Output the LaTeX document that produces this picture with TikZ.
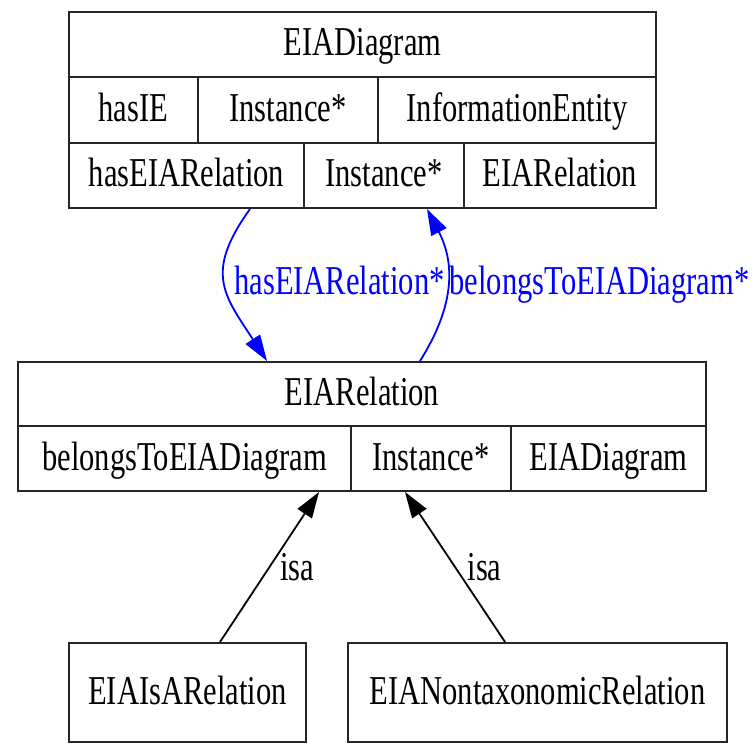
\documentclass[tikz,border=0pt]{standalone}
\usepackage{fontspec}
\setmainfont{Liberation Serif}[FakeStretch=0.745]
\usetikzlibrary{arrows.meta}
\definecolor{linkblue}{RGB}{0,0,255}
\begin{document}
\begin{tikzpicture}[x=1pt, y=-1pt,
  txt/.style={font=\fontsize{41}{44}\selectfont, text height=28pt, text depth=5pt},
  cell/.style={txt, draw=black!85, line width=2pt, anchor=north west, inner sep=0pt},
  lbl/.style={txt, inner sep=0pt},
  link/.style={line width=1.8pt, -{Triangle[length=26pt,width=17pt]}},
]
\path[fill=white, use as bounding box] (0,0) rectangle (756,746);

% EIADiagram record
\node[cell, minimum width=587pt, minimum height=65pt] (d-title) at (68,11) {EIADiagram};
\node[cell, minimum width=129pt, minimum height=66pt] (d-r2a) at (68,76) {hasIE};
\node[cell, minimum width=180pt, minimum height=66pt] (d-r2b) at (197,76) {Instance*};
\node[cell, minimum width=278pt, minimum height=66pt] (d-r2c) at (377,76) {InformationEntity};
\node[cell, minimum width=235pt, minimum height=65pt] (d-r3a) at (68,142) {hasEIARelation};
\node[cell, minimum width=160pt, minimum height=65pt] (d-r3b) at (303,142) {Instance*};
\node[cell, minimum width=192pt, minimum height=65pt] (d-r3c) at (463,142) {EIARelation};

% EIARelation record
\node[cell, minimum width=688pt, minimum height=64pt] (r-title) at (17,361) {EIARelation};
\node[cell, minimum width=333pt, minimum height=65pt] (r-r2a) at (17,425) {belongsToEIADiagram};
\node[cell, minimum width=160pt, minimum height=65pt] (r-r2b) at (350,425) {Instance*};
\node[cell, minimum width=195pt, minimum height=65pt] (r-r2c) at (510,425) {EIADiagram};

% subclasses
\node[cell, minimum width=237pt, minimum height=99pt] (b-left) at (68,642) {EIAIsARelation};
\node[cell, minimum width=379pt, minimum height=99pt] (b-right) at (347,642) {EIANontaxonomicRelation};

% slot links
\draw[link, linkblue] ([xshift=63.5pt]d-r3a.south) .. controls +(-46,64) and +(-43,-66) .. ([xshift=-95pt]r-title.north);
\draw[link, linkblue] ([xshift=58pt]r-title.north) .. controls +(33.6,-53.3) and +(29,56) .. ([xshift=43pt]d-r3b.south);
\node[lbl, text=linkblue] (l-has) at (339.5,283) {hasEIARelation*};
\node[lbl, text=linkblue] (l-belongs) at (599.5,283) {belongsToEIADiagram*};

% isa links
\draw[link] ([xshift=32.5pt]b-left.north) -- ([xshift=134.5pt]r-r2a.south);
\draw[link] ([xshift=-32.5pt]b-right.north) -- ([xshift=-26pt]r-r2b.south);
\node[lbl] (isa-left) at (297,569) {isa};
\node[lbl] (isa-right) at (484.5,569) {isa};
\end{tikzpicture}
\end{document}
